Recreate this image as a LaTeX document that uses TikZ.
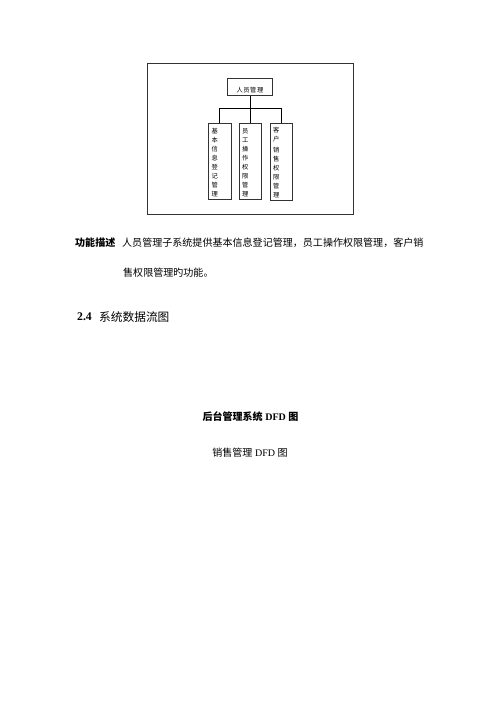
\documentclass[tikz,border=0pt]{standalone}
\usepackage{fontspec}
\setmainfont{Liberation Serif}
\newfontfamily\cjk{Noto Sans CJK SC}
\usetikzlibrary{positioning}
\tikzset{
  topbox/.style={
    % The shape:
    shape=rectangle,
    % The size:
    minimum width=54, minimum height=20,
    % The text sits a little low in the box
    text height=12pt, text depth=0pt,
    % The border:
    draw=black!80, thin,
    font=\cjk\fontsize{7.5}{9}\selectfont\addfontfeature{LetterSpace=8}
  }}
\tikzset{
	subbox/.style={
		% The shape:
		rectangle,minimum height=79,
		% The text:
		text width=19,inner xsep=4,align=left,
		% The rest
		draw=black!80,thin,
		font=\cjk\fontsize{7.5}{10.7}\selectfont}}
\tikzset{
	txt/.style={inner sep=0pt,anchor=west}}

\begin{document}
\begin{tikzpicture}[x=0.42mm,y=-0.42mm]
	\useasboundingbox[fill=white] (0,0) rectangle (500,707);
	% Frame round the chart
	\draw[black!80] (147,63) rectangle (353,214);
	% Boxes
	\node[topbox] (ry) at (250,87) {人员管理};
	\node[subbox] (jb) at (219.5,161.5) {\mbox{}\\[-2pt]基\\本\\信\\息\\登\\记\\管\\理};
	\node[subbox] (yg) at (250,161.5) {\mbox{}\\[-2pt]员\\工\\操\\作\\权\\限\\管\\理};
	\node[subbox] (kh) at (281,161.5) {\mbox{}\\[-2pt]客\\户\\[2pt]销\\售\\权\\限\\管\\理};
	% Lines out of ry
	\coordinate (bus) at (250,108);
	\draw (ry.south) -- (bus);
	\draw (bus) -| (jb.north);
	\draw (bus) -- (yg.north);
	\draw (bus) -| (kh.north);
	% Texts below
	\node[txt] (gnms) at (75,243) {\cjk\fontsize{12}{14}\selectfont\bfseries 功能描述};
	\node[txt] (ms1) at (122,243) {\cjk\fontsize{12}{14}\selectfont 人员管理子系统提供基本信息登记管理，员工操作权限管理，客户销};
	\node[txt] (ms2) at (123,273) {\cjk\fontsize{12}{14}\selectfont 售权限管理旳功能。};
	\node[txt] (num) at (77,317) {\fontsize{14}{16}\selectfont\bfseries 2.4};
	\node[txt] (title) at (99,317) {\cjk\fontsize{14}{16}\selectfont 系统数据流图};
	\node[inner sep=0pt] (cap1) at (250.5,417) {\fontsize{12}{14}\selectfont{\cjk\bfseries 后台管理系统} \textbf{DFD} {\cjk\bfseries 图}};
	\node[inner sep=0pt] (cap2) at (250,453) {\fontsize{12}{14}\selectfont{\cjk 销售管理} DFD {\cjk 图}};
\end{tikzpicture}
\end{document}
